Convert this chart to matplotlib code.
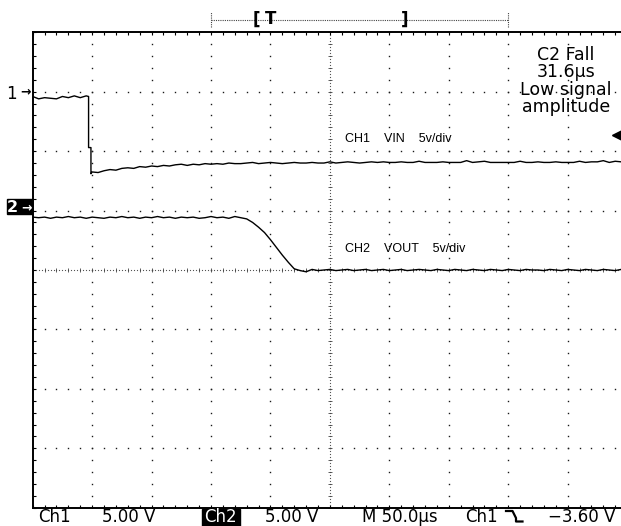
import numpy as np
import matplotlib.pyplot as plt
from matplotlib.lines import Line2D
from matplotlib.patches import Rectangle

# scope settings
volts_per_div = 5.0
us_per_div = 50.0
ch1_offset = 3.0      # ground marker position, divisions
ch2_offset = 1.0
trig_level = -3.60    # V, on Ch1

# Ch1 (VIN), time in us, volts
ch1_t = list(range(0, 50, 5)) + [47, 47, 49, 49] + list(range(50, 500, 5))
ch1_v = [-0.4, -0.6, -0.5, -0.55, -0.6, -0.4, -0.5, -0.35, -0.5, -0.35,
         -0.4, -4.7, -4.7, -6.9,
         -6.75, -6.8, -6.65, -6.55, -6.6, -6.45, -6.4, -6.45, -6.3, -6.35,
         -6.25, -6.3, -6.2, -6.25, -6.15, -6.1, -6.2, -6.1, -6.15, -6.05,
         -6.1, -6.05, -6.1, -6.0, -6.05, -6.05, -6.0, -5.95, -6.05, -6.0,
         -5.95, -6.0, -6.05, -6.0, -5.95, -6.0, -6.0, -5.95, -6.0, -6.0,
         -5.9, -6.0, -5.95, -5.9, -5.95, -6.0, -5.95, -5.9, -5.95, -5.9,
         -5.95, -5.95, -5.9, -5.95, -5.95, -5.85, -5.95, -5.95, -5.95, -5.9,
         -5.95, -5.95, -5.95, -5.8, -5.95, -5.9, -5.85, -5.95, -5.95, -5.95,
         -5.95, -5.95, -5.85, -5.95, -5.95, -5.9, -5.95, -5.95, -5.9, -5.95,
         -5.95, -5.95, -5.85, -5.95, -5.9, -5.9, -5.8, -5.95, -5.85, -5.9]

# Ch2 (VOUT)
ch2_t = list(range(0, 500, 5))
ch2_v = [-0.55, -0.6, -0.55, -0.65, -0.55, -0.6, -0.5, -0.6, -0.55, -0.65,
         -0.55, -0.6, -0.65, -0.55, -0.6, -0.5, -0.6, -0.55, -0.65, -0.55,
         -0.6, -0.5, -0.6, -0.55, -0.65, -0.55, -0.6, -0.55, -0.65, -0.6,
         -0.5, -0.6, -0.55, -0.65, -0.5, -0.6, -0.7, -1.0, -1.4, -1.85,
         -2.45, -3.1, -3.75, -4.35, -4.9, -5.05, -5.15, -4.95, -5.05, -5.0,
         -4.95, -5.05, -5.0, -4.95, -5.05, -5.0, -4.95, -5.05, -5.0, -4.95,
         -5.05, -5.0, -4.95, -5.05, -5.0, -4.95, -5.0, -5.05, -4.95, -5.0,
         -5.05, -4.95, -5.0, -5.05, -4.95, -5.0, -5.05, -4.95, -5.0, -5.05,
         -4.95, -5.0, -5.05, -4.95, -5.0, -5.0, -5.05, -4.95, -5.0, -5.05,
         -4.95, -5.0, -5.05, -4.95, -5.0, -5.05, -4.95, -5.0, -5.05, -4.95]

meas_lines = ['C2 Fall', '31.6µs', 'Low signal', 'amplitude']
ch_labels = ['CH1    VIN    5v/div', 'CH2    VOUT    5v/div']

W, H = 621, 526
def fx(px): return px / W
def fy(py): return 1 - py / H

fig = plt.figure(figsize=(W / 100, H / 100), dpi=100)
ax = fig.add_axes([fx(32.7), fy(507.7), 594.4 / W, 475.4 / H])
ax.set_xlim(0, 10 * us_per_div)
ax.set_ylim(-4, 4)
for s in ['top', 'bottom', 'left']:
    ax.spines[s].set_linewidth(1.4)
ax.spines['right'].set_visible(False)
ax.set_xticks(np.arange(0, 501, 10))
ax.set_yticks(np.arange(-4, 4.01, 0.2))
ax.tick_params(direction='in', length=2.5, width=0.8, top=True, right=False,
               labelbottom=False, labelleft=False)

# graticule dots
dot = dict(ls='none', marker='s', ms=1.0, mew=0, color='#1a1a1a')
ydots = np.arange(-4, 4.01, 0.2)
xdots = np.arange(0, 500, 10)
for gx in range(50, 500, 50):
    if gx != 250:
        ax.plot([gx] * len(ydots), ydots, **dot)
for gy in [-3, -2, -1, 1, 2, 3]:
    ax.plot(xdots, [gy] * len(xdots), **dot)
# center crosshair
yc = np.arange(-4, 4.01, 0.05)
xc = np.arange(0, 500, 2.5)
ax.plot([250] * len(yc), yc, ls='none', marker='s', ms=0.8, mew=0, color='#555555')
ax.plot(xc, [0] * len(xc), ls='none', marker='s', ms=0.8, mew=0, color='#555555')
ax.plot([250] * len(ydots), ydots, ls='none', marker='_', ms=3.5, mew=0.6, color='#444444')
ax.plot(xdots, [0] * len(xdots), ls='none', marker='|', ms=3.5, mew=0.6, color='#444444')

# traces
ax.plot(ch1_t, ch1_offset + np.array(ch1_v) / volts_per_div, color='black', lw=1.0)
ax.plot(ch2_t, ch2_offset + np.array(ch2_v) / volts_per_div, color='black', lw=1.0)

# trigger level marker
ax.plot([492.5], [ch1_offset + trig_level / volts_per_div], marker='<', ms=8,
        color='black', clip_on=False)

# record bar above the screen
ax.plot([150, 400], [4.215, 4.215], color='#444444', lw=0.8, ls=(0, (1, 1)), clip_on=False)
ax.plot([150, 150], [4.09, 4.34], color='#444444', lw=0.8, ls=(0, (1, 1)), clip_on=False)
ax.plot([400, 400], [4.09, 4.34], color='#444444', lw=0.8, ls=(0, (1, 1)), clip_on=False)
ax.text(188.5, 4.215, '[', ha='center', va='center', fontsize=12, fontweight='bold', clip_on=False)
ax.text(200, 4.22, 'T', ha='center', va='center', fontsize=12, fontweight='bold', clip_on=False)
ax.text(313, 4.215, ']', ha='center', va='center', fontsize=12, fontweight='bold', clip_on=False)

# channel ground markers
fig.text(fx(17), fy(99), '1', ha='right', va='baseline', fontsize=12)
fig.text(fx(31), fy(92), '→', ha='right', va='center', fontsize=9, fontweight='bold')
fig.patches.append(Rectangle((fx(7), fy(214)), 25 / W, 15 / H, transform=fig.transFigure,
                             color='black'))
fig.text(fx(18), fy(212), '2', ha='right', va='baseline', fontsize=11.5, color='white',
         fontweight='bold')
fig.text(fx(31.5), fy(207.5), '→', ha='right', va='center', fontsize=9, color='white',
         fontweight='bold')

# measurement readout
for i, line in enumerate(meas_lines):
    fig.text(fx(566), fy(60 + 17.4 * i), line, ha='center', va='baseline', fontsize=12.5)

fig.text(fx(345), fy(142), ch_labels[0], fontsize=9, family='Liberation Sans', va='baseline')
fig.text(fx(345), fy(252), ch_labels[1], fontsize=9, family='Liberation Sans', va='baseline')

# status line
st = dict(fontsize=12, va='baseline')
fig.text(fx(38), fy(522), 'Ch1', **st)
fig.text(fx(101.5), fy(522), '5.00 V', **st)
fig.patches.append(Rectangle((fx(201.7), 0), 38.3 / W, 17 / H, transform=fig.transFigure,
                             color='black'))
fig.text(fx(204.5), fy(522), 'Ch2', color='white', **st)
fig.text(fx(265), fy(522), '5.00 V', **st)
fig.text(fx(362.5), fy(522), 'M 50.0µs', **st)
fig.text(fx(465), fy(522), 'Ch1', **st)
sx = [506, 512.5, 516, 516, 522.5]
sy = [511, 511, 518, 521.5, 521.5]
fig.lines.append(Line2D([fx(v) for v in sx], [fy(v) for v in sy], transform=fig.transFigure,
                        color='black', lw=1.6))
fig.text(fx(548), fy(522), '−3.60 V', **st)

fig.savefig('out.png', dpi=100)
